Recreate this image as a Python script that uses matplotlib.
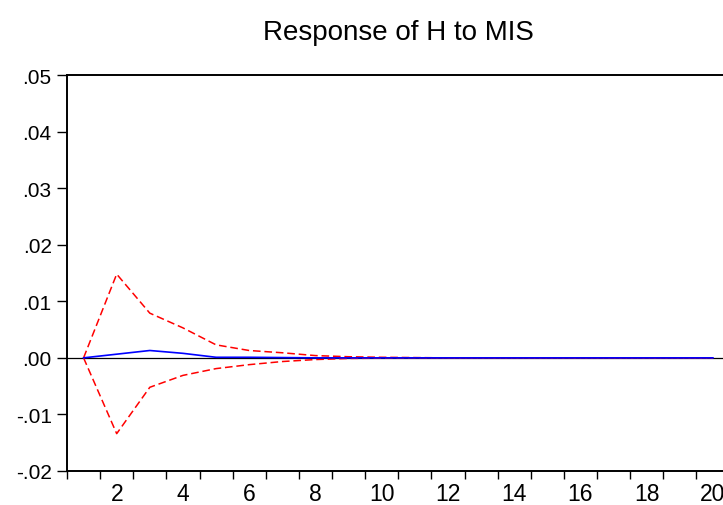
import numpy as np
import matplotlib
matplotlib.use("Agg")
import matplotlib.pyplot as plt

plt.rcParams['font.family'] = ['Liberation Sans', 'DejaVu Sans']

periods = list(range(1, 21))
response = [0.0, 0.00065, 0.0013, 0.0008, 0.0001, 0.0001, 0.00005, 0.0, 0.0, 0.0,
            0.0, 0.0, 0.0, 0.0, 0.0, 0.0, 0.0, 0.0, 0.0, 0.0]
upper = [0.0, 0.0148, 0.0079, 0.0053, 0.0023, 0.0013, 0.0009, 0.0004, 0.0002, 0.0001,
         0.00005, 0.0, 0.0, 0.0, 0.0, 0.0, 0.0, 0.0, 0.0, 0.0]
lower = [0.0, -0.0134, -0.0052, -0.0031, -0.0019, -0.0012, -0.00065, -0.0003, -0.0001, -0.00005,
         0.0, 0.0, 0.0, 0.0, 0.0, 0.0, 0.0, 0.0, 0.0, 0.0]
ytick_vals = [0.05, 0.04, 0.03, 0.02, 0.01, 0.00, -0.01, -0.02]
ytick_labels = ['.05', '.04', '.03', '.02', '.01', '.00', '-.01', '-.02']
xtick_vals = [2, 4, 6, 8, 10, 12, 14, 16, 18, 20]
title = "Response of H to MIS"

W, H = 723, 506
fig = plt.figure(figsize=(W / 100, H / 100), dpi=100)
left, right = 67 / W, 729.5 / W
bottom, top = (H - 472) / H, (H - 76) / H
ax = fig.add_axes([left, bottom, right - left, top - bottom])

ax.axhline(0, color='black', lw=0.9, zorder=1)
ax.plot(periods, response, color='#0000ff', lw=1.2, zorder=3)
ax.plot(periods, upper, color='#ff0000', lw=1.1, dashes=(5, 2.5), zorder=2)
ax.plot(periods, lower, color='#ff0000', lw=1.1, dashes=(5, 2.5), zorder=2)

ax.set_xlim(0.5, 20.5)
ax.set_ylim(-0.02, 0.05)
ax.set_yticks(ytick_vals)
ax.set_yticklabels(ytick_labels)
ax.set_xticks(xtick_vals)
ax.set_xticks(np.arange(0.5, 20.5, 1.0), minor=True)
ax.tick_params(axis='x', which='major', length=0, pad=8, labelsize=16.5)
ax.tick_params(axis='x', which='minor', length=6, width=1.0, direction='out')
ax.tick_params(axis='y', which='major', length=7, width=1.0, direction='out', pad=4, labelsize=15)

for s in ['left', 'bottom', 'top', 'right']:
    ax.spines[s].set_linewidth(1.4)

ax.set_title(title, fontsize=20, pad=26)

fig.savefig('out.png', dpi=100)
